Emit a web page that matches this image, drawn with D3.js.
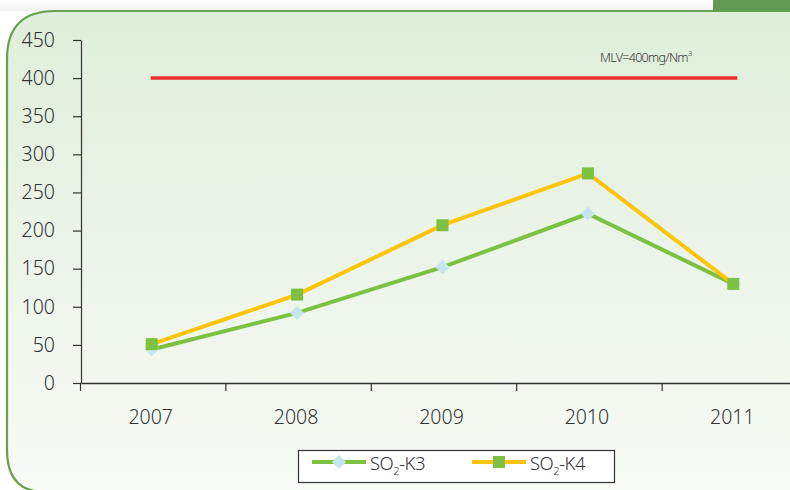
<!DOCTYPE html>
<html>
<head>
<meta charset="UTF-8">
<title>SO2 K3 / K4</title>
<script src="https://cdn.jsdelivr.net/npm/d3@7"></script>
<style>
  body { margin:0; background:#fff; }
  svg { display:block; font-family:"Noto Sans", "Open Sans", Lato, sans-serif; }
</style>
</head>
<body>
<svg id="chart" width="790" height="490"></svg>
<script>
// data
var years = ["2007", "2008", "2009", "2010", "2011"];
var k3 = [44, 92, 152, 222, 130];
var k4 = [51, 116, 207, 275, 130];
var yTicks = [0, 50, 100, 150, 200, 250, 300, 350, 400, 450];
var mlv = 400;

var svg = d3.select("#chart");

// panel background
var defs = svg.append("defs");
var grad = defs.append("linearGradient").attr("id", "bg")
    .attr("x1", 0).attr("y1", 0).attr("x2", 0).attr("y2", 1);
grad.append("stop").attr("offset", "0%").attr("stop-color", "#dfeedb");
grad.append("stop").attr("offset", "100%").attr("stop-color", "#f8fbf6");
var topGrad = defs.append("linearGradient").attr("id", "topbg")
    .attr("x1", 0).attr("y1", 0).attr("x2", 0).attr("y2", 1);
topGrad.append("stop").attr("offset", "0%").attr("stop-color", "#ffffff");
topGrad.append("stop").attr("offset", "100%").attr("stop-color", "#f0f0f0");

svg.append("rect").attr("x", 0).attr("y", 0).attr("width", 713).attr("height", 11)
    .attr("fill", "url(#topbg)");
svg.append("rect").attr("x", 713).attr("y", 0).attr("width", 77).attr("height", 11)
    .attr("fill", "#619a52");

var r = 48;
svg.append("path")
    .attr("d", "M800,11 L" + (7 + r) + ",11 Q7,11 7," + (11 + r) +
               " L7,450 Q7,492 45,492 L800,492 Z")
    .attr("fill", "url(#bg)")
    .attr("stroke", "#67a04e")
    .attr("stroke-width", 2.2);

// scales
var x = d3.scaleBand().domain(years).range([81, 808]);
var y = d3.scaleLinear().domain([0, 450]).range([383, 40]);

// axes
var gy = svg.append("g").attr("transform", "translate(81,0)")
    .call(d3.axisLeft(y).tickValues(yTicks).tickSize(8).tickSizeOuter(0).tickPadding(18));
gy.select(".domain").attr("stroke", "#333").attr("stroke-width", 1.2);
gy.selectAll(".tick line").attr("stroke", "#333").attr("stroke-width", 1.2);
gy.selectAll("text").attr("font-size", 19.5).attr("fill", "#333")
    .attr("font-family", "'Noto Sans', sans-serif").attr("font-weight", 300);

var gx = svg.append("g").attr("transform", "translate(0,383)")
    .call(d3.axisBottom(x).tickSize(0).tickSizeOuter(0).tickPadding(27));
gx.select(".domain").attr("stroke", "#333").attr("stroke-width", 1.4);
gx.selectAll("text").attr("font-size", 19.5).attr("fill", "#333")
    .attr("font-family", "'Noto Sans', sans-serif").attr("font-weight", 300)
    .attr("dx", -3);
// tick marks between the years
gx.selectAll(".sep").data(years).enter().append("line")
    .attr("x1", function(d) { return x(d) - 0.5; })
    .attr("x2", function(d) { return x(d) - 0.5; })
    .attr("y1", 0).attr("y2", 8)
    .attr("stroke", "#333").attr("stroke-width", 1.2);

// MLV line
svg.append("line")
    .attr("x1", x(years[0]) + x.bandwidth() / 2 - 3)
    .attr("x2", x(years[4]) + x.bandwidth() / 2 + 2)
    .attr("y1", y(mlv)).attr("y2", y(mlv))
    .attr("stroke", "#ee2e2e").attr("stroke-width", 3.5);
var mt = svg.append("text").attr("x", 600).attr("y", 62)
    .attr("font-size", 12.5).attr("font-weight", 300).attr("letter-spacing", -0.7).attr("fill", "#333")
    .text("MLV=400mg/Nm");
mt.append("tspan").attr("dy", -6).attr("font-size", 8).text("3");

var cx = function(d, i) { return x(years[i]) + x.bandwidth() / 2 - 2; };
var line = d3.line().x(cx).y(function(d) { return y(d); });

svg.append("path").datum(k3).attr("d", line)
    .attr("fill", "none").attr("stroke", "#7dc142").attr("stroke-width", 4);
svg.append("path").datum(k4).attr("d", line)
    .attr("fill", "none").attr("stroke", "#ffc50a").attr("stroke-width", 4);

svg.selectAll(".k3").data(k3).enter().append("path")
    .attr("d", d3.symbol().type(d3.symbolSquare).size(100))
    .attr("transform", function(d, i) { return "translate(" + cx(d, i) + "," + y(d) + ") rotate(45)"; })
    .attr("fill", "#c5e6ee");
svg.selectAll(".k4").data(k4).enter().append("rect")
    .attr("x", function(d, i) { return cx(d, i) - 6; })
    .attr("y", function(d) { return y(d) - 6; })
    .attr("width", 12).attr("height", 12)
    .attr("fill", "#7dc142");

// legend
var lg = svg.append("g");
lg.append("rect").attr("x", 298.5).attr("y", 450.5).attr("width", 316).attr("height", 32)
    .attr("fill", "#fff").attr("stroke", "#333").attr("stroke-width", 1.2);
var items = [
  {label: "K3", stroke: "#7dc142", x0: 312},
  {label: "K4", stroke: "#ffc50a", x0: 472}
];
items.forEach(function(it, i) {
  lg.append("line").attr("x1", it.x0).attr("x2", it.x0 + 54)
    .attr("y1", 462).attr("y2", 462)
    .attr("stroke", it.stroke).attr("stroke-width", 4);
  if (i === 0) {
    lg.append("path").attr("d", d3.symbol().type(d3.symbolSquare).size(100))
      .attr("transform", "translate(" + (it.x0 + 27) + ",462) rotate(45)")
      .attr("fill", "#c5e6ee");
  } else {
    lg.append("rect").attr("x", it.x0 + 21).attr("y", 456).attr("width", 12).attr("height", 12)
      .attr("fill", "#7dc142");
  }
  var t = lg.append("text").attr("x", it.x0 + 58).attr("y", 470)
    .attr("font-size", 18.5).attr("font-weight", 300).attr("fill", "#333").attr("letter-spacing", -0.5).text("SO");
  t.append("tspan").attr("dy", 5).attr("font-size", 11).text("2");
  t.append("tspan").attr("dy", -5).text("-" + it.label);
});
</script>
</body>
</html>
